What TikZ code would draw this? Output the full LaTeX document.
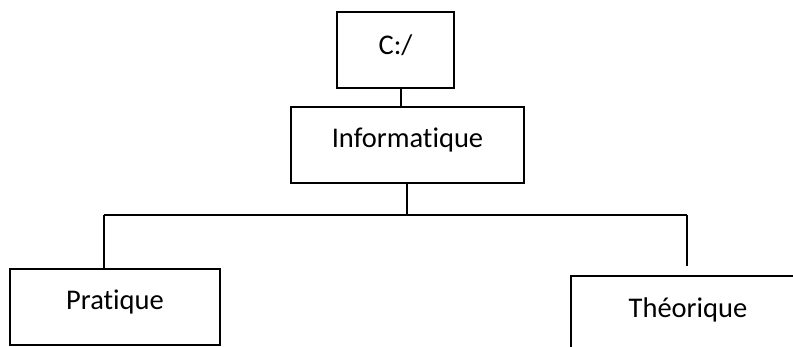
\documentclass[tikz,border=0pt]{standalone}
\usepackage{fontspec}
\setmainfont[Ligatures={NoCommon}]{Carlito}
\begin{document}
\begin{tikzpicture}[x=1pt,y=1pt,
  box/.style={draw=black, line width=1.6pt, inner sep=0pt, fill=white},
  lbl/.style={anchor=base, inner sep=0pt, font=\fontsize{28.5}{32}\selectfont},
  wire/.style={draw=black, line width=1.4pt}]
\useasboundingbox (0,0) rectangle (793,347);
\clip (0,0) rectangle (793,347);
% boxes (y = 347 - image y)
\node[box, minimum width=117pt, minimum height=76pt] (C) at (395.5,297) {};
\node[box, minimum width=233pt, minimum height=76pt] (I) at (407.5,202) {};
\node[box, minimum width=210pt, minimum height=76pt] (P) at (115,40) {};
\node[box, minimum width=234pt, minimum height=76pt] (T) at (688,33) {};
% labels
\node[lbl] (Ct) at (395.5,292) {C:/};
\node[lbl] (It) at (407.5,199) {Informatique};
\node[lbl] (Pt) at (115,37) {Pratique};
\node[lbl] (Tt) at (688,29) {Théorique};
% connectors
\draw[wire] ([xshift=5.5pt]C.south) -- ([xshift=-6.5pt]I.north);
\coordinate (bus) at (407,132);
\coordinate (busL) at (104,132);
\coordinate (busR) at (687,132);
\coordinate (Tend) at (687,81);
\draw[wire] ([xshift=-0.5pt]I.south) -- (bus);
\draw[wire] (busL) -- (busR);
\draw[wire] (busL) -- (busL |- P.north);
\draw[wire] (busR) -- (Tend);
\end{tikzpicture}
\end{document}
